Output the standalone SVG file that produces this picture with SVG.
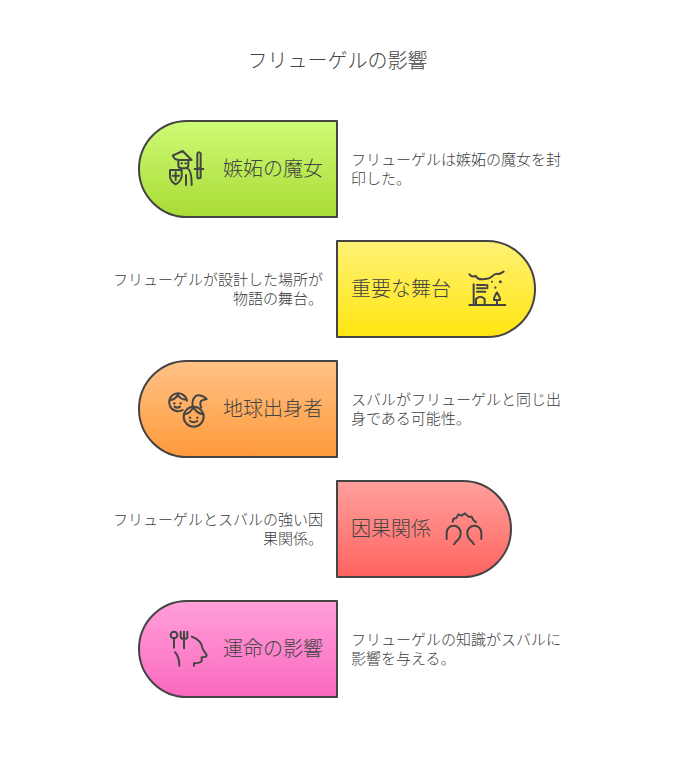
<svg xmlns="http://www.w3.org/2000/svg" width="674" height="770" viewBox="0 0 674 770">
<style>
text{font-family:"Noto Sans CJK JP","Noto Sans CJK SC",sans-serif;fill:#444;font-weight:300}
.t{font-size:20px}
.l{font-size:20px}
.d{font-size:15px;fill:#3c3c3c}
.e{text-anchor:end}
.s{stroke:#444;stroke-width:2;stroke-linejoin:round}
.i{fill:none;stroke:#444;stroke-width:6;stroke-linecap:round;stroke-linejoin:round}
.f{fill:#444}
</style>
<defs>
<linearGradient id="g1" x1="0" y1="0" x2="0" y2="1"><stop offset="0" stop-color="#cdfb75"/><stop offset="1" stop-color="#a8dc36"/></linearGradient>
<linearGradient id="g2" x1="0" y1="0" x2="0" y2="1"><stop offset="0" stop-color="#fff176"/><stop offset="1" stop-color="#ffe610"/></linearGradient>
<linearGradient id="g3" x1="0" y1="0" x2="0" y2="1"><stop offset="0" stop-color="#ffc288"/><stop offset="1" stop-color="#ff9a3a"/></linearGradient>
<linearGradient id="g4" x1="0" y1="0" x2="0" y2="1"><stop offset="0" stop-color="#ffa09c"/><stop offset="1" stop-color="#ff6460"/></linearGradient>
<linearGradient id="g5" x1="0" y1="0" x2="0" y2="1"><stop offset="0" stop-color="#ffa0d8"/><stop offset="1" stop-color="#fb68c0"/></linearGradient>
</defs>
<text class="t" x="337.500" y="68" text-anchor="middle">フリューゲルの影響</text>
<g id="connectors"/>
<g id="node-1">
<path class="s" fill="url(#g1)" d="M337 121V217H187A48 48 0 0 1 187 121Z"/>
<g transform="translate(160 145) scale(.3333)">
<path class="i" d="M38 32L68 18L95 45M38 32L45 42L55 45H90M55 45V60Q55 70 65 70H75Q85 70 85 60V45M30 75H65V95Q62 110 47 118Q32 110 30 95ZM47 82V105M38 92H57M85 72Q95 80 95 120M78 90V120M112 25Q117 18 122 25V70H112ZM104 72H130M112 72V98Q117 102 122 98V72"/>
<circle class="f" cx="65" cy="55" r="3.500"/><circle class="f" cx="77" cy="55" r="3.500"/>
</g>
<text class="l" x="223" y="176">嫉妬の魔女</text>
<text class="d" x="351" y="165">フリューゲルは嫉妬の魔女を封</text>
<text class="d" x="351" y="184">印した。</text>
</g>
<g id="node-2">
<path class="s" fill="url(#g2)" d="M337 241V337H487A48 48 0 0 0 487 241Z"/>
<g transform="translate(462 265) scale(.3333)">
<path class="i" d="M22 28Q28 38 42 33Q48 46 68 42Q82 42 90 34Q100 24 112 27L125 20M22 120H130M35 58V120M45 60H70M45 70H70M45 80H70M42 120V102Q55 88 68 102V120M76 60V70M105 120V105M105 82Q95 98 96 105H114Q115 98 105 82Z"/>
<circle class="f" cx="115" cy="50" r="4.500"/><circle class="f" cx="100" cy="68" r="3.500"/><circle class="f" cx="90" cy="50" r="3"/>
</g>
<text class="l" x="351" y="296">重要な舞台</text>
<text class="d e" x="323" y="285">フリューゲルが設計した場所が</text>
<text class="d e" x="323" y="304">物語の舞台。</text>
</g>
<g id="node-3">
<path class="s" fill="url(#g3)" d="M337 361V457H187A48 48 0 0 1 187 361Z"/>
<g transform="translate(160 385) scale(.3333)">
<path class="i" d="M68 75A27 27 0 1 1 81 47M28 46Q46 44 53 30Q62 44 80 44M44 65Q52 71 60 65M72 88Q92 86 100 66Q108 84 130 88M98 65Q94 45 108 32Q124 27 140 42L124 47Q118 56 124 68M90 108Q101 115 112 108"/>
<circle class="i" cx="101" cy="95" r="30"/>
<circle class="f" cx="43" cy="55" r="3.500"/><circle class="f" cx="62" cy="55" r="3.500"/><circle class="f" cx="90" cy="98" r="3.500"/><circle class="f" cx="112" cy="98" r="3.500"/>
</g>
<text class="l" x="223" y="416">地球出身者</text>
<text class="d" x="351" y="405">スバルがフリューゲルと同じ出</text>
<text class="d" x="351" y="424">身である可能性。</text>
</g>
<g id="node-4">
<path class="s" fill="url(#g4)" d="M337 481V577H463A48 48 0 0 0 463 481Z"/>
<g transform="translate(440 505) scale(.3333)">
<path class="i" d="M38 50L40 42L50 38L55 28L65 32L75 25L85 35L95 35L100 45L108 52M20 102V83A21 21 0 0 1 62 83Q62 98 50 108L42 118M124 102V83A21 21 0 0 0 82 83Q82 98 94 108L102 118"/>
</g>
<text class="l" x="351" y="536">因果関係</text>
<text class="d e" x="323" y="525">フリューゲルとスバルの強い因</text>
<text class="d e" x="323" y="544">果関係。</text>
</g>
<g id="node-5">
<path class="s" fill="url(#g5)" d="M337 601V697H187A48 48 0 0 1 187 601Z"/>
<g transform="translate(160 625) scale(.3333)">
<path class="i" d="M42 40V68M62 20V35Q62 42 72 42Q82 42 82 35V20M72 20V70M95 35Q125 45 128 72L140 90Q140 97 125 97V108Q120 115 102 115V122M45 82Q58 95 58 122"/>
<circle class="i" cx="42" cy="30" r="10"/>
</g>
<text class="l" x="223" y="656">運命の影響</text>
<text class="d" x="351" y="645">フリューゲルの知識がスバルに</text>
<text class="d" x="351" y="664">影響を与える。</text>
</g>
</svg>
